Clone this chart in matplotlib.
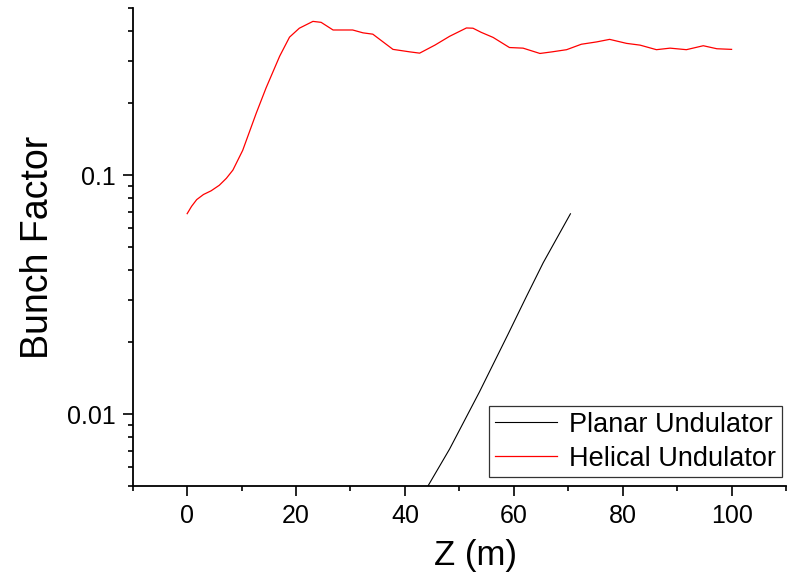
import matplotlib
matplotlib.use("Agg")
import matplotlib.pyplot as plt
from matplotlib.ticker import LogLocator, MultipleLocator, NullFormatter, FixedLocator, FixedFormatter

plt.rcParams['font.family'] = ['Liberation Sans', 'DejaVu Sans']

# helical undulator bunching factor (red)
helicalZ = [0, 0.8, 1.75, 3.0, 4.4, 5.9, 7.2, 8.4, 10.2, 12.7, 14.5, 17, 18.8, 20.6, 23.1, 24.6, 26.8,
            30.4, 32.3, 34.1, 37.8, 40.9, 42.7, 45.5, 48.2, 51.3, 52.5, 54, 56.2, 59.2, 61.7,
            64.8, 67, 69.7, 72.4, 75.2, 77.6, 80.7, 83.2, 86.2, 88.7, 91.7, 94.8, 97.3, 100]
helicalB = [0.069, 0.074, 0.079, 0.083, 0.086, 0.0907, 0.097, 0.105, 0.127, 0.182, 0.232, 0.315,
            0.378, 0.412, 0.44, 0.436, 0.405, 0.405, 0.394, 0.389, 0.336, 0.328, 0.324, 0.35,
            0.381, 0.413, 0.412, 0.396, 0.377, 0.342, 0.34, 0.323, 0.328, 0.335, 0.353, 0.361,
            0.37, 0.356, 0.35, 0.335, 0.34, 0.335, 0.348, 0.338, 0.336]

# planar undulator bunching factor (black)
planarZ = [44.0, 48.2, 53.7, 58.9, 62.3, 65.4, 70.4]
planarB = [0.0049, 0.00714, 0.0124, 0.0215, 0.031, 0.043, 0.0689]

xMajor = [0, 20, 40, 60, 80, 100]
yMajor = [0.01, 0.1]
yMajorLabels = ["0.01", "0.1"]

fig = plt.figure(figsize=(7.91, 5.80), dpi=100)
ax = fig.add_axes([0.1678, 0.162, 0.8259, 0.824])

ax.plot(planarZ, planarB, color="black", lw=0.8, label="Planar Undulator")
ax.plot(helicalZ, helicalB, color="red", lw=0.9, label="Helical Undulator")

ax.set_yscale("log")
ax.set_xlim(-10, 110)
ax.set_ylim(0.005, 0.5)

ax.xaxis.set_major_locator(FixedLocator(xMajor))
ax.xaxis.set_minor_locator(MultipleLocator(10))
ax.yaxis.set_major_locator(FixedLocator(yMajor))
ax.yaxis.set_major_formatter(FixedFormatter(yMajorLabels))
ax.yaxis.set_minor_locator(LogLocator(base=10, subs=[2, 3, 4, 5, 6, 7, 8, 9]))
ax.yaxis.set_minor_formatter(NullFormatter())

for s in ["top", "right"]:
    ax.spines[s].set_visible(False)
for s in ["left", "bottom"]:
    ax.spines[s].set_linewidth(1.3)

ax.tick_params(which="major", direction="out", length=7.2, width=1.2, labelsize=18)
ax.tick_params(which="minor", direction="out", length=3.6, width=1.2)
ax.tick_params(axis="x", which="major", pad=6)
ax.tick_params(axis="y", which="major", pad=5)

ax.set_xlabel("Z (m)", fontsize=25)
ax.set_ylabel("Bunch Factor", fontsize=27)
ax.xaxis.set_label_coords(0.524, -0.11)
ax.yaxis.set_label_coords(-0.118, 0.5)

leg = ax.legend(loc="lower right", bbox_to_anchor=(781.7 / 791, (580 - 477.3) / 580),
                bbox_transform=fig.transFigure, fontsize=19.5, frameon=True, fancybox=False,
                shadow=False, borderaxespad=0, handlelength=2.3, handletextpad=0.45,
                labelspacing=0.3, borderpad=0.2)
leg.get_frame().set_edgecolor("black")
leg.get_frame().set_linewidth(0.9)

fig.savefig("out.png", dpi=100)
